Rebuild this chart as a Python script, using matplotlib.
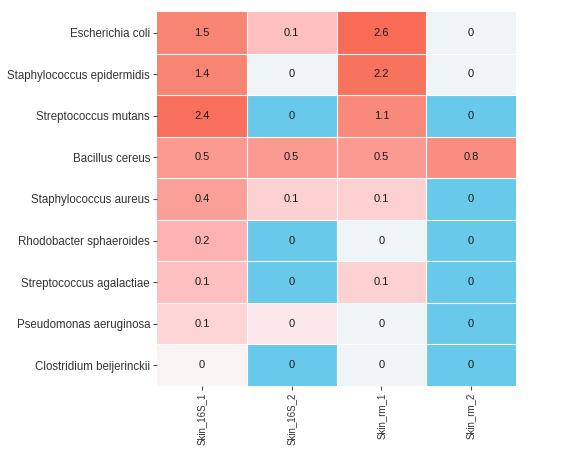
import numpy as np
import matplotlib.pyplot as plt
from matplotlib.colors import LinearSegmentedColormap

species = ['Escherichia coli', 'Staphylococcus epidermidis', 'Streptococcus mutans',
           'Bacillus cereus', 'Staphylococcus aureus', 'Rhodobacter sphaeroides',
           'Streptococcus agalactiae', 'Pseudomonas aeruginosa', 'Clostridium beijerinckii']
samples = ['Skin_16S_1', 'Skin_16S_2', 'Skin_rm_1', 'Skin_rm_2']

# shown (rounded) values
labels = [[1.5, 0.1, 2.6, 0],
          [1.4, 0, 2.2, 0],
          [2.4, 0, 1.1, 0],
          [0.5, 0.5, 0.5, 0.8],
          [0.4, 0.1, 0.1, 0],
          [0.2, 0, 0, 0],
          [0.1, 0, 0.1, 0],
          [0.1, 0, 0, 0],
          [0, 0, 0, 0]]

# estimated unrounded values behind the fill (nan = missing)
nan = np.nan
fill = [[1.45, 0.14, 2.6, 0.0],
        [1.45, 0.0, 2.2, 0.0],
        [2.4, nan, 1.1, nan],
        [0.5, 0.5, 0.5, 0.8],
        [0.4, 0.08, 0.08, nan],
        [0.2, nan, 0.0, nan],
        [0.14, nan, 0.08, nan],
        [0.07, 0.03, 0.0, nan],
        [0.01, nan, 0.0, nan]]

stops = [0, 0.01, 0.03, 0.08, 0.14, 0.2, 0.4, 0.5, 0.8, 1.1, 1.45, 2.2, 2.6]
cols = ['#eff5f7', '#fbf3f4', '#fce8eb', '#fdd0d1', '#fdbfbf', '#fcb3b1', '#fba098',
        '#fb9a91', '#f98d82', '#f9897a', '#f88474', '#f8735e', '#f76b57']
cmap = LinearSegmentedColormap.from_list('fillmap', [(s / stops[-1], c) for s, c in zip(stops, cols)],
                                         N=4096)
cmap.set_bad('#68c9ea')

plt.rcParams['font.family'] = ['Liberation Sans', 'DejaVu Sans']

fig = plt.figure(figsize=(5.61, 4.53), dpi=100)
ax = fig.add_axes([157 / 561, 1 - 386 / 453, (516 - 157) / 561, (386 - 12) / 453])

data = np.ma.masked_invalid(np.array(fill, dtype=float))
ax.pcolormesh(data, cmap=cmap, vmin=0, vmax=stops[-1])
ax.hlines(np.arange(1, len(species)), 0, len(samples), color='white', linewidth=0.8)
ax.vlines(np.arange(1, len(samples)), 0, len(species), color='white', linewidth=0.8)
ax.set_xlim(0, len(samples))
ax.set_ylim(len(species), 0)

for i in range(len(species)):
    for j in range(len(samples)):
        ax.text(j + 0.5, i + 0.5, f'{labels[i][j]:g}', ha='center', va='center',
                fontsize=8, color='#1a1a1a')

ax.set_xticks(np.arange(len(samples)) + 0.5)
ax.set_xticklabels(samples, rotation=90, fontsize=7, color='#333333')
ax.set_yticks(np.arange(len(species)) + 0.5)
ax.set_yticklabels(species, fontsize=8.3, color='#333333')
ax.tick_params(length=3, width=0.8, color='#4d4d4d', pad=2)
for s in ax.spines.values():
    s.set_visible(False)

fig.savefig('out.png', dpi=100)
